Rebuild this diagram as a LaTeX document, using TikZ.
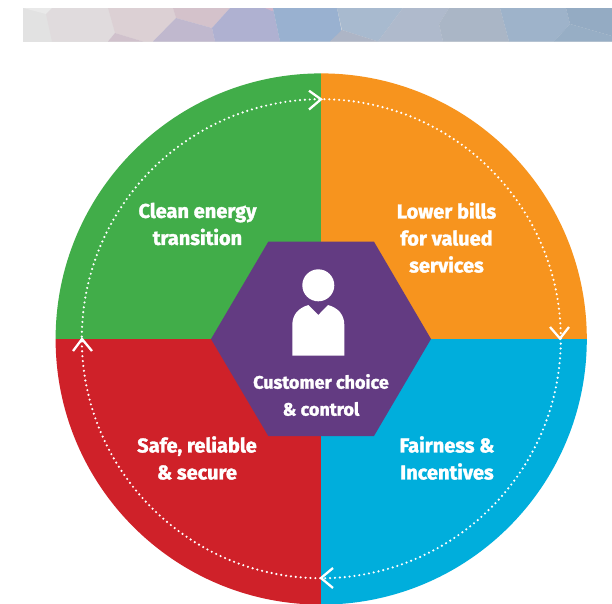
\documentclass[tikz,border=0pt]{standalone}
\usepackage{fontspec}
\setmainfont[BoldFeatures={FakeBold=1.6}]{Fira Sans}
\definecolor{cgreen}{HTML}{41AD49}
\definecolor{corange}{HTML}{F7941E}
\definecolor{ccyan}{HTML}{00AEDC}
\definecolor{cred}{HTML}{CF2129}
\definecolor{cpurple}{HTML}{633B82}
\newcommand{\bandpatch}[2]{\definecolor{tmpc}{HTML}{#1}\fill[tmpc] #2;}
\tikzset{
  lab/.style={text=white,align=center,font=\fontsize{20}{27}\selectfont\bfseries,inner sep=0pt},
  hexlab/.style={text=white,align=center,font=\fontsize{18}{27}\selectfont\bfseries,inner sep=0pt},
  chev/.style={draw=white,line width=2.3pt,line cap=butt,line join=miter},
  ringdots/.style={draw=white,line width=2.4pt,line cap=round,dash pattern=on 0pt off 4.9pt}
}
\begin{document}
\begin{tikzpicture}[x=1pt,y=-1pt]
\useasboundingbox (0,0) rectangle (612,603);
\fill[white] (0,0) rectangle (612,603);
% banner
\bandpatch{E2E2E2}{(23.3,8) rectangle (612,41.5)}
\bandpatch{E9E9E9}{(23.3,8) -- (52,8) -- (46,14) -- cycle}
\bandpatch{E0DBDD}{(52,8) -- (108,8) -- (115,33) -- (108,41.5) -- (52,41.5) -- (46,14) -- cycle}
\bandpatch{DCD0D4}{(108,8) -- (173,8) -- (176,18) -- (153,41.5) -- (143,41.5) -- (115,33) -- cycle}
\bandpatch{D0C1CC}{(115,33) -- (143,41.5) -- (108,41.5) -- cycle}
\bandpatch{D4C2CB}{(173,8) -- (230,8) -- (212,28) -- (176,18) -- cycle}
\bandpatch{C0B8CE}{(176,18) -- (212,28) -- (215,41.5) -- (153,41.5) -- cycle}
\bandpatch{AFB1D1}{(230,8) -- (273,8) -- (280,41.5) -- (215,41.5) -- (212,28) -- cycle}
\bandpatch{D0B4C8}{(265,8) -- (275,8) -- (272,11) -- cycle}
\bandpatch{99B1D0}{(273,8) -- (337,8) -- (342,33) -- (330,41.5) -- (280,41.5) -- cycle}
\bandpatch{A8BACF}{(337,8) -- (403,8) -- (378,41.5) -- (342,30) -- cycle}
\bandpatch{ADB5C6}{(342,30) -- (378,41.5) -- (330,41.5) -- cycle}
\bandpatch{AFBACC}{(403,8) -- (449,8) -- (439,24) -- (443,41.5) -- (378,41.5) -- cycle}
\bandpatch{AAB6C6}{(449,8) -- (500,8) -- (509,41.5) -- (443,41.5) -- (439,24) -- cycle}
\bandpatch{9EB3CA}{(500,8) -- (566,8) -- (570,24) -- (554,41.5) -- (509,41.5) -- cycle}
\bandpatch{94ABC3}{(566,8) -- (612,8) -- (612,36) -- (570,24) -- cycle}
\bandpatch{97AEC5}{(570,24) -- (612,36) -- (612,41.5) -- (554,41.5) -- cycle}
% disc
\coordinate (c) at (321.2,339);
\begin{scope}
\clip (c) circle[radius=265.6];
\fill[cgreen] (c) rectangle (50,70);
\fill[corange] (c) rectangle (590,70);
\fill[ccyan] (c) rectangle (590,610);
\fill[cred] (c) rectangle (50,610);
\end{scope}
% ring
\draw[ringdots] (321.3,338.7) circle[radius=239.5];
\coordinate (ta) at (309,90.7); \coordinate (tt) at (321,99.3); \coordinate (tb) at (309,109.5);
\coordinate (ra) at (550,327); \coordinate (rt) at (560,338.5); \coordinate (rb) at (569,327);
\coordinate (ba) at (333,568); \coordinate (bt) at (321,578); \coordinate (bb) at (333,588);
\coordinate (la) at (73,351); \coordinate (lt) at (82,339); \coordinate (lb) at (92,351);
\draw[chev] (ta) -- (tt) -- (tb);
\draw[chev] (ra) -- (rt) -- (rb);
\draw[chev] (ba) -- (bt) -- (bb);
\draw[chev] (la) -- (lt) -- (lb);
% hexagon
\fill[cpurple] (211,339) -- (268.3,241.7) -- (374,241.7) -- (431,339) -- (374,436) -- (268.3,436) -- cycle;
% person
\fill[white] (318.3,285.3) circle[radius=16];
\fill[white] (292.3,355.7) -- (292.3,325) .. controls (292.3,315) and (298,308) .. (308.5,305) -- (318.3,315) -- (328,305) .. controls (338.6,308) and (344.3,315) .. (344.3,325) -- (344.3,355.7) -- cycle;
% labels
\node[lab] (clean) at (197.5,224) {Clean energy\\transition};
\node[lab] (lower) at (446.5,237.5) {Lower bills\\for valued\\services};
\node[lab] (safe) at (197,458) {Safe, reliable\\\& secure};
\node[lab] (fair) at (447,458) {Fairness \&\\Incentives};
\node[hexlab] (cust) at (321,395) {Customer choice\\\& control};
\end{tikzpicture}
\end{document}
